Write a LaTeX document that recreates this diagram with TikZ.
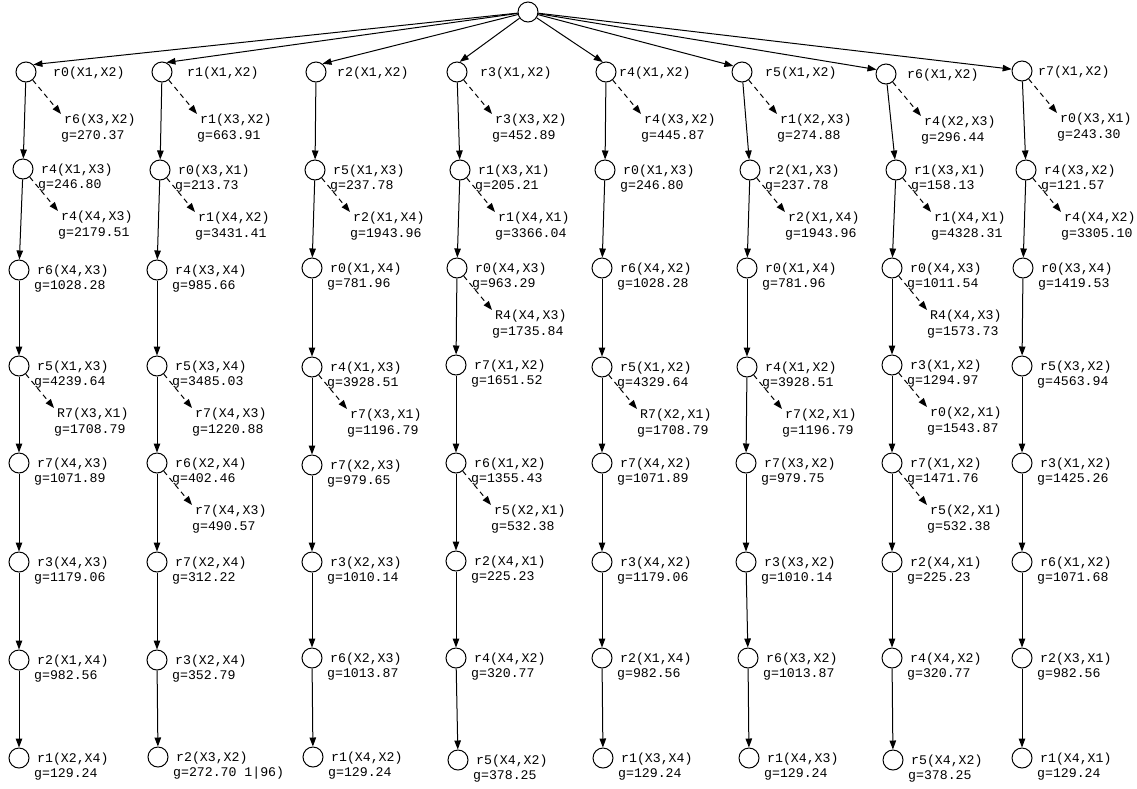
\documentclass[tikz,border=0pt]{standalone}
\usepackage{fontspec}
\newfontfamily\monoletra{Liberation Mono}
\usetikzlibrary{arrows.meta}

\begin{document}
\begin{tikzpicture}[x=1pt, y=1pt,
    font={\monoletra\fontsize{13.2pt}{15.5pt}\selectfont},
    estado/.style={circle, draw, fill=white, line width=1pt, minimum size=20pt, inner sep=0pt},
    etiqueta/.style={align=left, inner sep=0pt, anchor=north west},
    flecha/.style={line width=1pt, -{Triangle[length=9pt,width=6.5pt]}},
    alterna/.style={flecha, dash pattern=on 5pt off 4pt}]

    \useasboundingbox (0,0) rectangle (1137,-788);

    % estado: #1 = desplazamiento de la etiqueta, #2 = nombre, #3 = posicion, #4 = etiqueta
    \newcommand{\estado}[4][15]{%
        \node[estado] (#2) at (#3) {};
        \node[etiqueta] (#2e) at ([shift={(#1,5.5)}]#2.center) {\hspace*{3pt}#4};}
    % rama descartada: #1 = estado, #2 = etiqueta
    \newcommand{\descarte}[2]{%
        \node[etiqueta] (#1d) at ([shift={(35,-42)}]#1.center) {\hspace*{3pt}#2};
        \draw[alterna] (#1) -- (#1d.north west);}

    \node[estado] (raiz) at (528,-12) {};

    % columna r0
    \estado[24]{a1}{26,-72}{r0(X1,X2)}
    \descarte{a1}{r6(X3,X2)\\g=270.37}
    \estado{a2}{23,-169}{r4(X1,X3)\\g=246.80}
    \descarte{a2}{r4(X4,X3)\\g=2179.51}
    \estado{a3}{19,-270}{r6(X4,X3)\\g=1028.28}
    \estado{a4}{19,-366}{r5(X1,X3)\\g=4239.64}
    \descarte{a4}{R7(X3,X1)\\g=1708.79}
    \estado{a5}{19,-463}{r7(X4,X3)\\g=1071.89}
    \estado{a6}{19,-562}{r3(X4,X3)\\g=1179.06}
    \estado{a7}{19,-660}{r2(X1,X4)\\g=982.56}
    \estado{a8}{19,-758}{r1(X2,X4)\\g=129.24}

    % columna r1
    \estado[22]{b1}{162,-72}{r1(X1,X2)}
    \descarte{b1}{r1(X3,X2)\\g=663.91}
    \estado{b2}{160,-170}{r0(X3,X1)\\g=213.73}
    \descarte{b2}{r1(X4,X2)\\g=3431.41}
    \estado{b3}{157,-270}{r4(X3,X4)\\g=985.66}
    \estado{b4}{157,-366}{r5(X3,X4)\\g=3485.03}
    \descarte{b4}{r7(X4,X3)\\g=1220.88}
    \estado{b5}{157,-463}{r6(X2,X4)\\g=402.46}
    \descarte{b5}{r7(X4,X3)\\g=490.57}
    \estado{b6}{157,-562}{r7(X2,X4)\\g=312.22}
    \estado{b7}{157,-660}{r3(X2,X4)\\g=352.79}
    \estado{b8}{158,-757}{r2(X3,X2)\\g=272.70 1|96)}

    % columna r2
    \estado[18]{c1}{316,-72}{r2(X1,X2)}
    \estado{c2}{315,-170}{r5(X1,X3)\\g=237.78}
    \descarte{c2}{r2(X1,X4)\\g=1943.96}
    \estado{c3}{312,-268}{r0(X1,X4)\\g=781.96}
    \estado{c4}{312,-367}{r4(X1,X3)\\g=3928.51}
    \descarte{c4}{r7(X3,X1)\\g=1196.79}
    \estado{c5}{312,-465}{r7(X2,X3)\\g=979.65}
    \estado{c6}{312,-562}{r3(X2,X3)\\g=1010.14}
    \estado{c7}{312,-658}{r6(X2,X3)\\g=1013.87}
    \estado{c8}{313,-757}{r1(X4,X2)\\g=129.24}

    % columna r3
    \estado[20]{d1}{457,-72}{r3(X1,X2)}
    \descarte{d1}{r3(X3,X2)\\g=452.89}
    \estado{d2}{460,-170}{r1(X3,X1)\\g=205.21}
    \descarte{d2}{r1(X4,X1)\\g=3366.04}
    \estado{d3}{457,-268}{r0(X4,X3)\\g=963.29}
    \descarte{d3}{R4(X4,X3)\\g=1735.84}
    \estado{d4}{456,-365}{r7(X1,X2)\\g=1651.52}
    \estado{d5}{456,-463}{r6(X1,X2)\\g=1355.43}
    \descarte{d5}{r5(X2,X1)\\g=532.38}
    \estado{d6}{456,-561}{r2(X4,X1)\\g=225.23}
    \estado{d7}{456,-658}{r4(X4,X2)\\g=320.77}
    \estado{d8}{458,-760}{r5(X4,X2)\\g=378.25}

    % columna r4
    \estado[10]{e1}{606,-72}{r4(X1,X2)}
    \descarte{e1}{r4(X3,X2)\\g=445.87}
    \estado{e2}{605,-170}{r0(X1,X3)\\g=246.80}
    \estado{e3}{602,-268}{r6(X4,X2)\\g=1028.28}
    \estado{e4}{602,-367}{r5(X1,X2)\\g=4329.64}
    \descarte{e4}{R7(X2,X1)\\g=1708.79}
    \estado{e5}{602,-463}{r7(X4,X2)\\g=1071.89}
    \estado{e6}{602,-562}{r3(X4,X2)\\g=1179.06}
    \estado{e7}{602,-658}{r2(X1,X4)\\g=982.56}
    \estado{e8}{603,-758}{r1(X3,X4)\\g=129.24}

    % columna r5
    \estado[20]{f1}{742,-72}{r5(X1,X2)}
    \descarte{f1}{r1(X2,X3)\\g=274.88}
    \estado{f2}{750,-170}{r2(X1,X3)\\g=237.78}
    \descarte{f2}{r2(X1,X4)\\g=1943.96}
    \estado{f3}{747,-268}{r0(X1,X4)\\g=781.96}
    \estado{f4}{747,-367}{r4(X1,X2)\\g=3928.51}
    \descarte{f4}{r7(X2,X1)\\g=1196.79}
    \estado{f5}{746,-463}{r7(X3,X2)\\g=979.75}
    \estado{f6}{746,-562}{r3(X3,X2)\\g=1010.14}
    \estado{f7}{748,-658}{r6(X3,X2)\\g=1013.87}
    \estado{f8}{749,-758}{r1(X4,X3)\\g=129.24}

    % columna r6
    \estado[18]{g1}{886,-74}{r6(X1,X2)}
    \descarte{g1}{r4(X2,X3)\\g=296.44}
    \estado{g2}{896,-170}{r1(X3,X1)\\g=158.13}
    \descarte{g2}{r1(X4,X1)\\g=4328.31}
    \estado{g3}{892,-268}{r0(X4,X3)\\g=1011.54}
    \descarte{g3}{R4(X4,X3)\\g=1573.73}
    \estado{g4}{892,-365}{r3(X1,X2)\\g=1294.97}
    \descarte{g4}{r0(X2,X1)\\g=1543.87}
    \estado{g5}{892,-463}{r7(X1,X2)\\g=1471.76}
    \descarte{g5}{r5(X2,X1)\\g=532.38}
    \estado{g6}{892,-562}{r2(X4,X1)\\g=225.23}
    \estado{g7}{892,-658}{r4(X4,X2)\\g=320.77}
    \estado{g8}{893,-760}{r5(X4,X2)\\g=378.25}

    % columna r7
    \estado[13]{h1}{1022,-71}{r7(X1,X2)}
    \descarte{h1}{r0(X3,X1)\\g=243.30}
    \estado{h2}{1026,-170}{r4(X3,X2)\\g=121.57}
    \descarte{h2}{r4(X4,X2)\\g=3305.10}
    \estado{h3}{1023,-268}{r0(X3,X4)\\g=1419.53}
    \estado{h4}{1022,-366}{r5(X3,X2)\\g=4563.94}
    \estado{h5}{1022,-463}{r3(X1,X2)\\g=1425.26}
    \estado{h6}{1022,-562}{r6(X1,X2)\\g=1071.68}
    \estado{h7}{1022,-658}{r2(X3,X1)\\g=982.56}
    \estado{h8}{1022,-758}{r1(X4,X1)\\g=129.24}

    % aristas
    \foreach \col/\ang in {a/45,b/65,c/52,d/75,e/108,f/145,g/155,h/170} {
        \draw[flecha] (raiz) -- (\col1.\ang);
        \foreach \i [count=\j from 2] in {1,...,7}
            \draw[flecha] (\col\i) -- (\col\j);
    }

\end{tikzpicture}
\end{document}
